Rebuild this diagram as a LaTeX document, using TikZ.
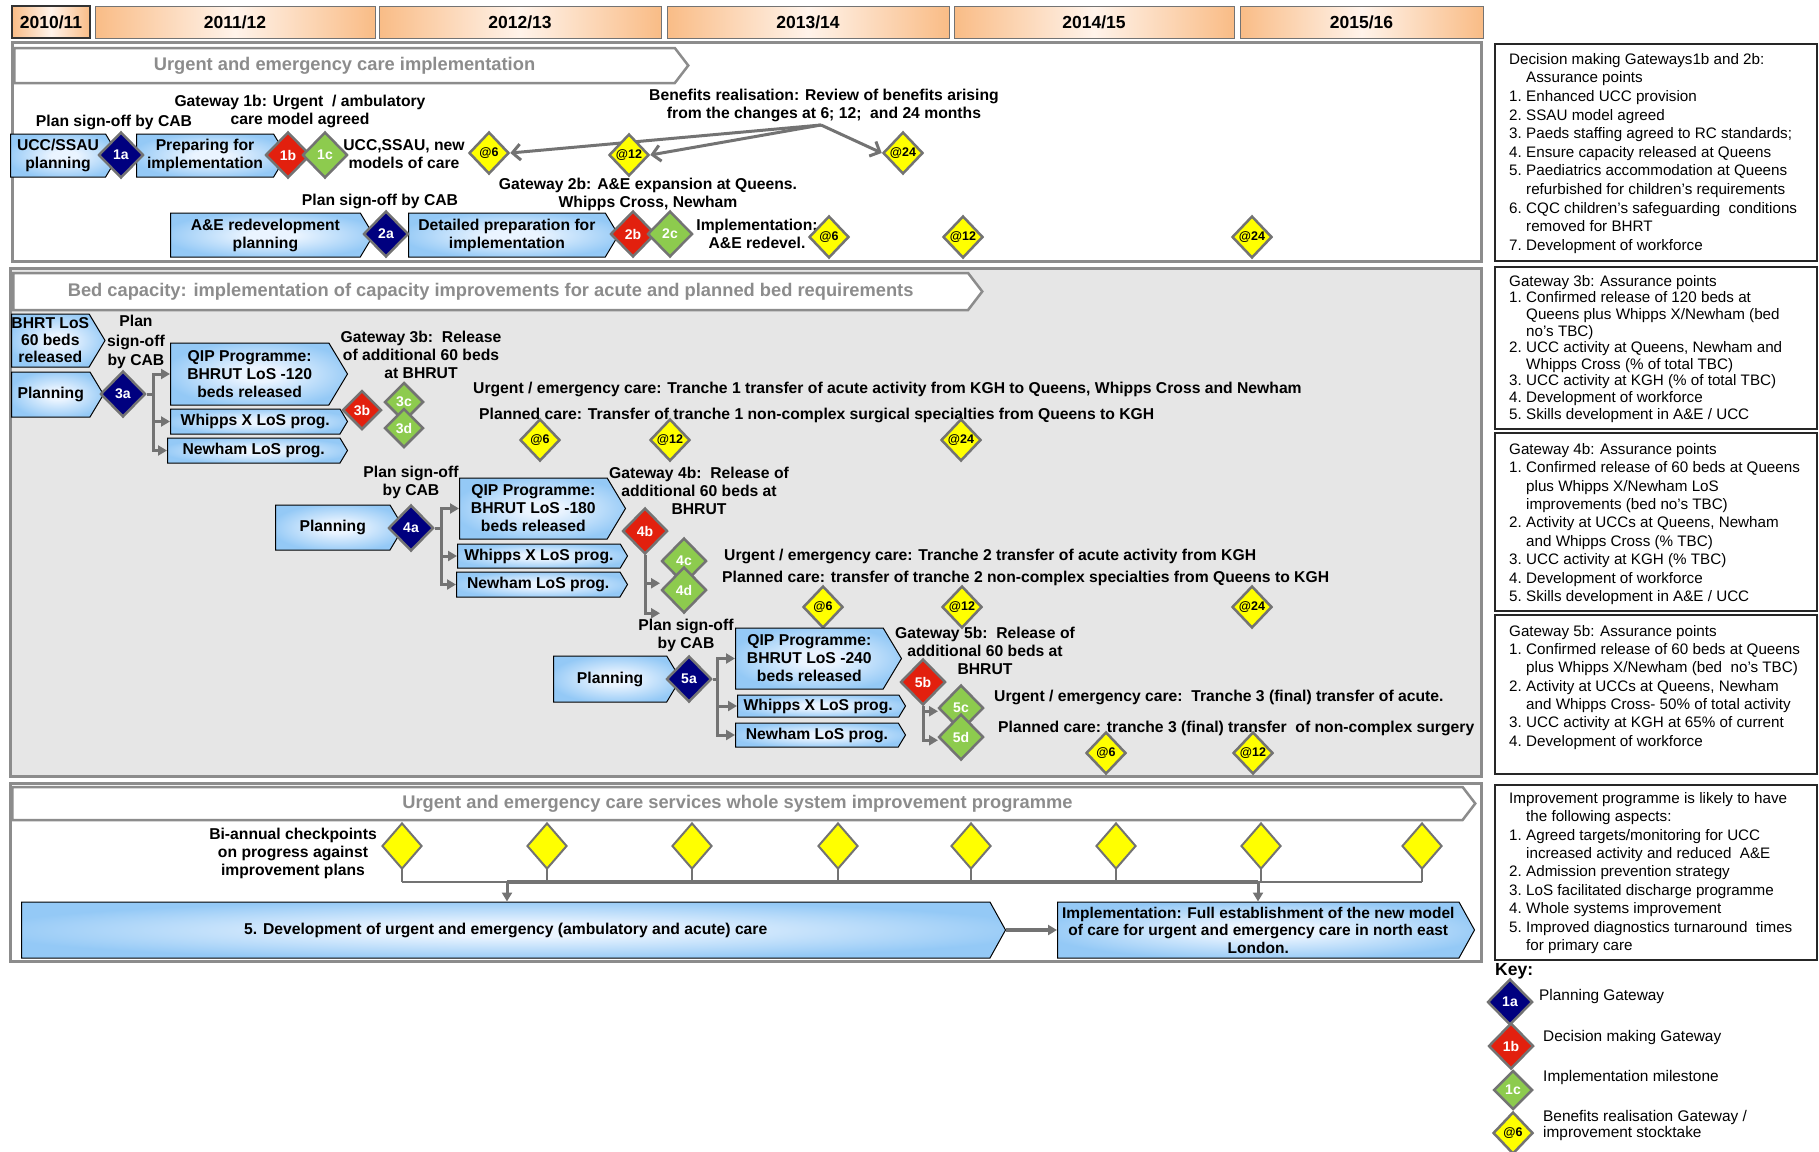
\documentclass[tikz,border=0pt]{standalone}
\usepackage{fontspec}
\setmainfont{Liberation Sans}
\usetikzlibrary{shapes.geometric,shapes.symbols,arrows.meta}
\definecolor{gnavy}{HTML}{00007F}
\definecolor{gred}{HTML}{E2200E}
\definecolor{ggreen}{HTML}{8DCB4E}
\definecolor{gyellow}{HTML}{FFFF00}
\definecolor{dgray}{HTML}{737373}
\definecolor{lgray}{HTML}{8C8C8C}
\definecolor{secgray}{HTML}{E6E6E6}
\definecolor{boxO}{HTML}{94C9F6}
\definecolor{boxL}{HTML}{EAF4FF}
\definecolor{hdrO}{HTML}{F9BC86}
\definecolor{hdrL}{HTML}{FFF3EA}
\pgfdeclareradialshading{stageglow}{\pgfpoint{0bp}{0bp}}{color(0bp)=(boxL); color(6bp)=(boxL); color(27bp)=(boxO); color(50bp)=(boxO)}
\newcommand{\itm}[2]{\makebox[17pt][l]{#1}#2}
\newcommand{\cnt}{\hspace*{17pt}}

\begin{document}
\begin{tikzpicture}[x=1pt,y=-1pt,
  every node/.style={inner sep=0pt,align=center,font=\bfseries\fontsize{15.7}{18}\selectfont},
  frame/.style={draw=lgray,line width=3pt},
  yearbox/.style={draw=dgray,line width=1pt,left color=hdrO,right color=hdrO,middle color=hdrL,minimum height=32,font=\bfseries\fontsize{17.5}{18}\selectfont},
  banner/.style={signal,signal to=east,signal pointer angle=105,anchor=west,draw=lgray,line width=2.5pt,fill=white,text=lgray,font=\bfseries\fontsize{18.3}{20}\selectfont},
  stage/.style={signal,signal to=east,signal pointer angle=118,anchor=west,draw=black,line width=1pt,shading=stageglow},
  gate/.style={diamond,draw=dgray,line width=2.5pt,minimum width=45,minimum height=46,text=white,font=\bfseries\fontsize{14}{14}\selectfont},
  plang/.style={gate,fill=gnavy},
  decg/.style={gate,fill=gred},
  impg/.style={gate,fill=ggreen},
  small/.style={minimum width=39,minimum height=39},
  benf/.style={gate,fill=gyellow,text=black,minimum width=40,minimum height=42,font=\bfseries\fontsize{12.5}{12.5}\selectfont},
  chk/.style={diamond,draw=dgray,line width=2pt,fill=gyellow,minimum width=40,minimum height=46},
  conn/.style={draw=dgray,line width=3pt,-{Triangle[length=9pt,width=10pt]}},
  barb/.style={draw=dgray,line width=3pt,-{Straight Barb[length=8pt,width=16pt]}},
  busline/.style={draw=dgray,line width=2pt},
  panelbox/.style={draw=black!85,line width=1.5pt},
  ptext/.style={align=left,font=\mdseries\fontsize{15.2}{18.6}\selectfont},
  ktext/.style={align=left,font=\mdseries\fontsize{15.4}{16}\selectfont}]
\useasboundingbox (0,0) rectangle (1819,1151);

\node[yearbox,minimum width=78,draw=black!80,line width=1.5pt] (y1) at (51,22) {2010/11};
\node[yearbox,minimum width=280] (y2) at (235,22) {2011/12};
\node[yearbox,minimum width=282] (y3) at (520,22) {2012/13};
\node[yearbox,minimum width=282] (y4) at (808,22) {2013/14};
\node[yearbox,minimum width=280] (y5) at (1094,22) {2014/15};
\node[yearbox,minimum width=243] (y6) at (1361.5,22) {2015/16};

\draw[frame] (12,42) rectangle (1481,261);
\draw[frame,fill=secgray] (10,268) rectangle (1481,776);
\draw[frame] (10,783) rectangle (1481,961);

\node[banner,minimum width=674,minimum height=35] (ban1) at (13,65.5) {Urgent and emergency care implementation};
\node[banner,minimum width=969,minimum height=37] (ban2) at (12,291.5) {Bed capacity: implementation of capacity improvements for acute and planned bed requirements};
\node[banner,minimum width=1463,minimum height=33] (ban3) at (11,803.5) {Urgent and emergency care services whole system improvement programme};

\node[stage,minimum width=108,minimum height=43] (ucc) at (10,155.5) {UCC/SSAU\\planning};
\node[stage,minimum width=150,minimum height=43] (prep) at (136,155.5) {Preparing for\\implementation};
\node[stage,minimum width=203,minimum height=44] (aered) at (170,235) {A\&E redevelopment\\planning};
\node[stage,minimum width=210,minimum height=44] (detprep) at (408,235) {Detailed preparation for\\implementation};

\node (so1) at (114,122) {Plan sign-off by CAB};
\node (gw1b) at (300,111) {Gateway 1b: Urgent\ \ / ambulatory\\care model agreed};
\node (mod1) at (404,154.5) {UCC,SSAU, new\\models of care};
\node (ben) at (824,105) {Benefits realisation: Review of benefits arising\\from the changes at 6; 12;\ \ and 24 months};
\node (so2) at (380,201) {Plan sign-off by CAB};
\node (gw2b) at (648,194) {Gateway 2b: A\&E expansion at Queens.\\Whipps Cross, Newham};
\node (impl2) at (757,234) {Implementation:\\A\&E redevel.};

\coordinate (benpt) at (821,125);
\node[benf] (b6a) at (489,153) {@6};
\node[benf] (b24a) at (903,153) {@24};
\draw[barb] (benpt) -- (b6a.east);
\draw[barb] (benpt) -- (b24a.west);
\node[benf] (b12a) at (629,155) {@12};
\draw[barb] (benpt) -- (b12a.east);

\node[plang] (g1a) at (121,155) {1a};
\node[decg] (g1b) at (288,155) {1b};
\node[impg] (g1c) at (325,155) {1c};
\node[plang] (g2a) at (386,234) {2a};
\node[decg] (g2b) at (633,234) {2b};
\node[impg] (g2c) at (670,234) {2c};
\node[benf] (b6b) at (829,237) {@6};
\node[benf] (b12b) at (963,237) {@12};
\node[benf] (b24b) at (1252,237) {@24};

\node[stage,minimum width=92,minimum height=53,font=\bfseries\fontsize{15.7}{17}\selectfont] (bhrt) at (11,340.5) {BHRT LoS\\60 beds\\released};
\node[stage,minimum width=92,minimum height=45] (plan3) at (11,394.5) {Planning};
\node[stage,minimum width=177,minimum height=62] (qip3) at (170,374) {QIP Programme:\\BHRUT LoS -120\\beds released};
\node[stage,minimum width=177,minimum height=25] (wx3) at (170,421.5) {Whipps X LoS prog.};
\node[stage,minimum width=180,minimum height=25] (nw3) at (167,450.5) {Newham LoS prog.};
\node[plang] (g3a) at (123,394) {3a};
\draw[conn] (g3a.east) -- ++(7,0) coordinate (t3) |- (qip3.west);
\draw[conn] (t3) |- (wx3.west);
\draw[conn] (t3) |- (nw3.west);
\node[decg,small] (g3b) at (362,410) {3b};
\node[impg,small] (g3c) at (404,402) {3c};
\node[impg,small] (g3d) at (404,428) {3d};
\node[font=\bfseries\fontsize{15.7}{19.5}\selectfont] (so3) at (136,342) {Plan\\sign-off\\by CAB};
\node (gw3b) at (421,355) {Gateway 3b:\ \ Release\\of additional 60 beds\\at BHRUT};
\node[anchor=west] (uec1) at (473,389) {Urgent / emergency care: Tranche 1 transfer of acute activity from KGH to Queens, Whipps Cross and Newham};
\node[anchor=west] (pc1) at (479,415) {Planned care: Transfer of tranche 1 non-complex surgical specialties from Queens to KGH};
\node[benf] (b6c) at (540,440) {@6};
\node[benf] (b12c) at (670,440) {@12};
\node[benf] (b24c) at (961,440) {@24};

\node (so4) at (411,482) {Plan sign-off\\by CAB};
\node[stage,minimum width=128,minimum height=45] (plan4) at (275,527.5) {Planning};
\node[stage,minimum width=166,minimum height=61] (qip4) at (459,508.5) {QIP Programme:\\BHRUT LoS -180\\beds released};
\node[stage,minimum width=170,minimum height=24] (wx4) at (457,556) {Whipps X LoS prog.};
\node[stage,minimum width=171,minimum height=25] (nw4) at (456,584.5) {Newham LoS prog.};
\node[plang] (g4a) at (411,528) {4a};
\draw[conn] (g4a.east) -- ++(7,0) coordinate (t4) |- (qip4.west);
\draw[conn] (t4) |- (wx4.west);
\draw[conn] (t4) |- (nw4.west);
\node (gw4b) at (699,491) {Gateway 4b:\ \ Release of\\additional 60 beds at\\BHRUT};
\node[decg] (g4b) at (645,531) {4b};
\draw[conn] (g4b.south) |- ++(15,28) coordinate (e4c);
\draw[conn] (g4b.south) |- ++(15,58) coordinate (e4d);
\node[impg] (g4c) at (684,561) {4c};
\node[impg] (g4d) at (684,590) {4d};
\node[anchor=west] (uec2) at (724,556) {Urgent / emergency care: Tranche 2 transfer of acute activity from KGH};
\node[anchor=west] (pc2) at (722,578) {Planned care: transfer of tranche 2 non-complex specialties from Queens to KGH};
\node[benf] (b6d) at (823,607) {@6};
\node[benf] (b12d) at (962,607) {@12};
\node[benf] (b24d) at (1252,607) {@24};

\node (so5) at (686,635) {Plan sign-off\\by CAB};
\node[stage,minimum width=127,minimum height=46] (plan5) at (553,679) {Planning};
\node[stage,minimum width=166,minimum height=61] (qip5) at (735,658.5) {QIP Programme:\\BHRUT LoS -240\\beds released};
\node[stage,minimum width=168,minimum height=22] (wx5) at (737,706) {Whipps X LoS prog.};
\node[stage,minimum width=170,minimum height=24] (nw5) at (735,735) {Newham LoS prog.};
\node[plang] (g5a) at (689,679) {5a};
\draw[conn] (g5a.east) -- ++(5,0) coordinate (t5) |- (qip5.west);
\draw[conn] (t5) |- (wx5.west);
\draw[conn] (t5) |- (nw5.west);
\node (gw5b) at (985,651) {Gateway 5b:\ \ Release of\\additional 60 beds at\\BHRUT};
\node[decg] (g5b) at (923,682) {5b};
\draw[conn] (g5b.south) |- ++(15,5) coordinate (e5c);
\draw[conn] (g5b.south) |- ++(15,34) coordinate (e5d);
\node[impg] (g5c) at (961,708) {5c};
\node[impg] (g5d) at (961,737) {5d};
\node[anchor=west] (uec3) at (994,697) {Urgent / emergency care:\ \ Tranche 3 (final) transfer of acute.};
\node[anchor=west] (pc3) at (998,728) {Planned care: tranche 3 (final) transfer\ \ of non-complex surgery};
\node[benf] (b6e) at (1106,753) {@6};
\node[benf] (b12e) at (1253,753) {@12};

\node (bia) at (293,853) {Bi-annual checkpoints\\on progress against\\improvement plans};
\node[stage,signal pointer angle=122,minimum width=984,minimum height=56] (devbox) at (21,930) {5. Development of urgent and emergency (ambulatory and acute) care};
\node[stage,signal pointer angle=122,minimum width=417,minimum height=56,font=\bfseries\fontsize{15.5}{17.5}\selectfont] (implbox) at (1057,930) {Implementation: Full establishment of the new model\\of care for urgent and emergency care in north east\\London.};
\foreach \x [count=\i] in {402,547,692,838,971,1116,1261,1422} {
  \draw[busline] (\x,868) -- (\x,882);
  \node[chk] (ck\i) at (\x,846) {};
}
\draw[busline] (ck1.south |- 0,882) -- (ck8.south |- 0,882);
\coordinate (bus1) at (507,882);
\coordinate (bus2) at (1258,882);
\draw[busline,line width=4pt] (bus1) -- (bus2);
\draw[conn] (bus1) -- (bus1 |- devbox.north);
\draw[conn] (bus2) -- (bus2 |- implbox.north);
\draw[conn,line width=4pt] (devbox.east) -- (implbox.west);

\draw[panelbox] (1495,44) rectangle (1817,261);
\draw[panelbox] (1495,267) rectangle (1817,429);
\draw[panelbox] (1495,433) rectangle (1817,611);
\draw[panelbox] (1495,615) rectangle (1817,774);
\draw[panelbox] (1495,785) rectangle (1817,960);

\node[ptext,anchor=north west] (ap1) at (1509,53) {Decision making Gateways1b and 2b:\\
\cnt Assurance points\\
\itm{1.}{Enhanced UCC provision}\\
\itm{2.}{SSAU model agreed}\\
\itm{3.}{Paeds staffing agreed to RC standards;}\\
\itm{4.}{Ensure capacity released at Queens}\\
\itm{5.}{Paediatrics accommodation at Queens}\\
\cnt refurbished for children’s requirements\\
\itm{6.}{CQC children’s safeguarding\ \ conditions}\\
\cnt removed for BHRT\\
\itm{7.}{Development of workforce}};
\node[ptext,anchor=north west,font=\mdseries\fontsize{15.2}{16.6}\selectfont] (ap2) at (1509,275) {Gateway 3b: Assurance points\\
\itm{1.}{Confirmed release of 120 beds at}\\
\cnt Queens plus Whipps X/Newham (bed\\
\cnt no’s TBC)\\
\itm{2.}{UCC activity at Queens, Newham and}\\
\cnt Whipps Cross (\% of total TBC)\\
\itm{3.}{UCC activity at KGH (\% of total TBC)}\\
\itm{4.}{Development of workforce}\\
\itm{5.}{Skills development in A\&E / UCC}};
\node[ptext,anchor=north west,font=\mdseries\fontsize{15.2}{18.4}\selectfont] (ap3) at (1509,443) {Gateway 4b: Assurance points\\
\itm{1.}{Confirmed release of 60 beds at Queens}\\
\cnt plus Whipps X/Newham LoS\\
\cnt improvements (bed no’s TBC)\\
\itm{2.}{Activity at UCCs at Queens, Newham}\\
\cnt and Whipps Cross (\% TBC)\\
\itm{3.}{UCC activity at KGH (\% TBC)}\\
\itm{4.}{Development of workforce}\\
\itm{5.}{Skills development in A\&E / UCC}};
\node[ptext,anchor=north west,font=\mdseries\fontsize{15.2}{18.3}\selectfont] (ap4) at (1509,625) {Gateway 5b: Assurance points\\
\itm{1.}{Confirmed release of 60 beds at Queens}\\
\cnt plus Whipps X/Newham (bed\ \ no’s TBC)\\
\itm{2.}{Activity at UCCs at Queens, Newham}\\
\cnt and Whipps Cross- 50\% of total activity\\
\itm{3.}{UCC activity at KGH at 65\% of current}\\
\itm{4.}{Development of workforce}};
\node[ptext,anchor=north west,font=\mdseries\fontsize{15.2}{18.4}\selectfont] (ap5) at (1509,792) {Improvement programme is likely to have\\
\cnt the following aspects:\\
\itm{1.}{Agreed targets/monitoring for UCC}\\
\cnt increased activity and reduced\ \ A\&E\\
\itm{2.}{Admission prevention strategy}\\
\itm{3.}{LoS facilitated discharge programme}\\
\itm{4.}{Whole systems improvement}\\
\itm{5.}{Improved diagnostics turnaround\ \ times}\\
\cnt for primary care};

\node[anchor=west,font=\bfseries\fontsize{17.5}{18}\selectfont] (key) at (1495,971) {Key:};
\node[plang] (k1) at (1510,1002) {1a};
\node[ktext,anchor=west] (kt1) at (1539,997) {Planning Gateway};
\node[decg] (k2) at (1511,1046) {1b};
\node[ktext,anchor=west] (kt2) at (1543,1038) {Decision making Gateway};
\node[impg,small] (k3) at (1513,1090) {1c};
\node[ktext,anchor=west] (kt3) at (1543,1078) {Implementation milestone};
\node[benf] (k4) at (1513,1133) {@6};
\node[ktext,anchor=west] (kt4) at (1543,1126) {Benefits realisation Gateway /\\improvement stocktake};
\end{tikzpicture}
\end{document}
